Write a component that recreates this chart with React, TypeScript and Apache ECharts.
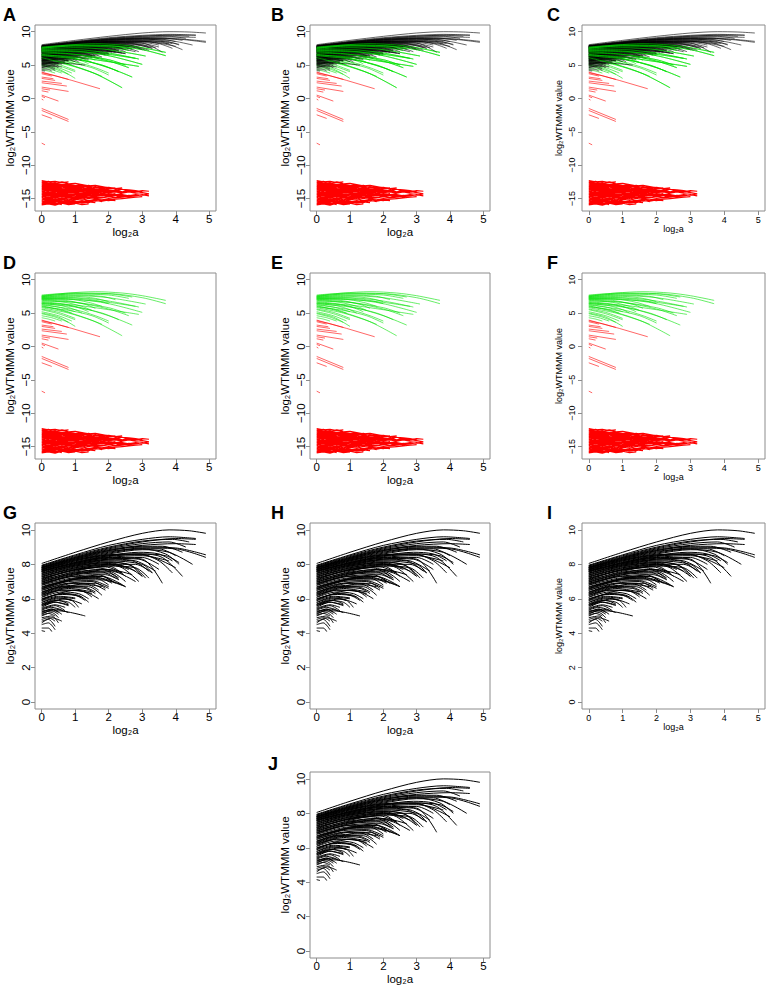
import React, { useEffect, useRef } from "react";
import * as echarts from "echarts";

// ---------- data ----------
const PANEL_LETTERS = ["A", "B", "C", "D", "E", "F", "G", "H", "I", "J"];
const X_TICKS = [0, 1, 2, 3, 4, 5];
const Y_TICKS_FULL = [-15, -10, -5, 0, 5, 10];
const Y_TICKS_BLACK = [0, 2, 4, 6, 8, 10];
const X_TITLE = "log₂a";
const Y_TITLE = "log₂WTMMM value";

// black WTMMM lines: [log2a, log2WTMMM]
const BLACK_LINES: number[][][] = [
  [[0, 8.05], [1, 8.7], [2, 9.3], [3, 9.8], [3.8, 10.0], [4.4, 9.95], [4.9, 9.8]],
  [[0, 7.95], [1, 8.55], [2, 9.1], [3, 9.45], [3.8, 9.6], [4.6, 9.5]],
  [[0, 7.92], [1, 8.5], [2, 9.0], [3, 9.35], [3.9, 9.45], [4.4, 9.3]],
  [[0, 7.9], [1, 8.45], [2, 8.95], [3, 9.3], [4, 9.5], [4.6, 9.45]],
  [[0, 7.85], [1, 8.4], [2, 8.85], [3, 9.1], [4, 9.2], [4.6, 9.15]],
  [[0, 7.85], [1, 8.4], [2, 8.9], [3, 9.2], [3.8, 9.3], [4.3, 9.0]],
  [[0, 7.82], [1, 8.35], [2, 8.8], [3, 9.05], [3.6, 9.05], [4.2, 8.7]],
  [[0, 7.8], [1, 8.35], [2, 8.8], [3, 9.0], [4, 8.95], [4.9, 8.55]],
  [[0, 7.8], [1, 8.3], [2, 8.7], [3, 8.95], [4, 8.9], [4.9, 8.4]],
  [[0, 7.78], [1, 8.3], [2, 8.75], [3, 8.9], [3.7, 8.6], [4.1, 8.0]],
  [[0, 7.75], [1, 8.25], [2, 8.6], [3, 8.85], [3.8, 8.7], [4.5, 8.0]],
  [[0, 7.72], [1, 8.25], [2, 8.65], [3, 8.9], [3.5, 8.9], [4.0, 8.5]],
  [[0, 7.7], [1, 8.2], [2, 8.55], [3, 8.6], [3.6, 8.4], [4.2, 7.3]],
  [[0, 7.7], [1, 8.15], [2, 8.5], [3, 8.55], [4.0, 7.8]],
  [[0, 7.68], [1, 8.2], [2, 8.55], [2.9, 8.6], [3.5, 8.2], [3.9, 7.5]],
  [[0, 7.65], [1, 8.1], [2, 8.4], [3, 8.3], [3.6, 6.9]],
  [[0, 7.62], [1, 8.1], [2, 8.5], [2.9, 8.7], [3.5, 8.6], [3.9, 8.2]],
  [[0, 7.6], [1, 8.05], [2, 8.4], [3, 8.5], [3.8, 8.2]],
  [[0, 7.6], [1, 8.1], [2, 8.45], [3, 8.6], [3.7, 8.5], [4.1, 8.1]],
  [[0, 7.58], [1, 8.05], [2, 8.35], [2.9, 8.3], [3.5, 7.7]],
  [[0, 7.55], [1, 8.0], [2, 8.3], [2.8, 8.2], [3.4, 7.6]],
  [[0, 7.5], [1, 7.95], [2, 8.2], [3, 8.0], [3.3, 7.5]],
  [[0, 7.48], [1, 7.95], [2, 8.25], [2.7, 8.2], [3.2, 7.6]],
  [[0, 7.45], [1, 8.0], [2, 8.3], [3, 8.4], [3.5, 8.0]],
  [[0, 7.4], [1, 7.9], [2, 8.1], [2.8, 7.6]],
  [[0, 7.38], [1, 7.9], [2, 8.15], [2.7, 7.9], [3.1, 7.2]],
  [[0, 7.35], [1, 7.85], [2, 8.1], [2.6, 8.0], [3.0, 7.3]],
  [[0, 7.3], [1, 7.8], [2, 8.05], [2.6, 7.7]],
  [[0, 7.28], [1, 7.75], [2, 7.95], [2.4, 7.8], [2.9, 7.0]],
  [[0, 7.25], [1, 7.8], [2, 8.0], [2.6, 7.8], [3.0, 7.3]],
  [[0, 7.2], [1, 7.7], [2, 7.9], [2.5, 7.3]],
  [[0, 7.18], [1, 7.65], [1.9, 7.85], [2.4, 7.5]],
  [[0, 7.15], [1, 7.7], [2, 8.0], [2.8, 8.0], [3.3, 7.5]],
  [[0, 7.1], [0.8, 7.6], [1.6, 7.8], [2.4, 7.5]],
  [[0, 7.08], [1, 7.55], [1.8, 7.7], [2.3, 7.2]],
  [[0, 7.05], [1, 7.6], [2, 7.9], [2.8, 7.8], [3.2, 7.2]],
  [[0, 7.0], [1, 7.5], [2, 7.6], [2.5, 7.0]],
  [[0, 6.98], [1, 7.45], [1.8, 7.55], [2.2, 7.2]],
  [[0, 6.95], [1, 7.5], [1.8, 7.7], [2.3, 7.5], [2.8, 7.0]],
  [[0, 6.9], [1, 7.4], [2, 7.5], [2.3, 7.1]],
  [[0, 6.88], [0.9, 7.3], [1.7, 7.4], [2.1, 7.0]],
  [[0, 6.85], [1, 7.4], [2, 7.7], [2.7, 7.4]],
  [[0, 6.8], [1, 7.3], [1.8, 7.3], [2.2, 6.9]],
  [[0, 6.78], [0.9, 7.2], [1.6, 7.25], [2.4, 6.8]],
  [[0, 6.7], [0.8, 7.1], [1.6, 7.2], [2.0, 6.8]],
  [[0, 6.68], [0.9, 7.1], [1.7, 7.2], [2.1, 6.9]],
  [[0, 6.65], [1, 7.2], [1.9, 7.4], [2.3, 7.1]],
  [[0, 6.6], [1, 7.1], [1.8, 7.1], [2.5, 6.7]],
  [[0, 6.58], [0.8, 7.0], [1.5, 7.05], [2.0, 6.7]],
  [[0, 6.55], [1, 7.15], [1.8, 7.3], [2.5, 6.7]],
  [[0, 6.5], [0.8, 6.9], [1.5, 7.0], [1.9, 6.6]],
  [[0, 6.48], [0.8, 6.9], [1.4, 6.9], [1.9, 6.5]],
  [[0, 6.4], [1, 6.9], [1.8, 6.7]],
  [[0, 6.38], [0.7, 6.75], [1.4, 6.8], [1.7, 6.5]],
  [[0, 6.35], [0.6, 6.7], [1.2, 6.7], [1.6, 6.4]],
  [[0, 6.3], [0.7, 6.7], [1.4, 6.7], [1.8, 6.2]],
  [[0, 6.28], [0.7, 6.65], [1.3, 6.6], [1.6, 6.3]],
  [[0, 6.25], [1, 6.8], [1.6, 6.9], [2.0, 6.6]],
  [[0, 6.2], [0.8, 6.6], [1.5, 6.4]],
  [[0, 6.18], [0.6, 6.5], [1.2, 6.45], [1.5, 6.1]],
  [[0, 6.1], [0.6, 6.5], [1.3, 6.4], [1.7, 6.0]],
  [[0, 6.08], [0.6, 6.4], [1.1, 6.3], [1.4, 6.0]],
  [[0, 6.0], [0.7, 6.3], [1.2, 6.1]],
  [[0, 5.98], [0.5, 6.25], [1.0, 6.2], [1.3, 5.9]],
  [[0, 5.95], [1, 6.5], [1.5, 6.3]],
  [[0, 5.9], [0.6, 6.3], [1.1, 6.2], [1.4, 5.8]],
  [[0, 5.88], [0.5, 6.15], [1.0, 6.05]],
  [[0, 5.8], [0.5, 6.1], [1.0, 6.0]],
  [[0, 5.78], [0.5, 6.05], [0.9, 5.9]],
  [[0, 5.7], [0.5, 6.0], [0.9, 5.9], [1.1, 5.5]],
  [[0, 5.68], [0.4, 5.9], [0.8, 5.8], [1.0, 5.5]],
  [[0, 5.65], [0.7, 6.0], [1.2, 5.7]],
  [[0, 5.6], [0.5, 5.9], [0.8, 5.7]],
  [[0, 5.58], [0.4, 5.8], [0.8, 5.65]],
  [[0, 5.5], [0.4, 5.8], [0.8, 5.6]],
  [[0, 5.45], [0.4, 5.65], [0.7, 5.5]],
  [[0, 5.4], [0.4, 5.6], [0.7, 5.3]],
  [[0, 5.35], [0.3, 5.5], [0.6, 5.35]],
  [[0, 5.3], [0.5, 5.3], [1.3, 5.0]],
  [[0, 5.25], [0.3, 5.4], [0.5, 5.2]],
  [[0, 5.2], [0.3, 5.4], [0.6, 5.1]],
  [[0, 5.15], [0.3, 5.3], [0.5, 5.1]],
  [[0, 5.1], [0.4, 5.4], [0.8, 5.2]],
  [[0, 5.05], [0.2, 5.15], [0.4, 5.0]],
  [[0, 5.0], [0.3, 5.2], [0.5, 4.9]],
  [[0, 4.9], [0.3, 5.0], [0.5, 4.6]],
  [[0, 4.8], [0.2, 4.9], [0.4, 4.7]],
  [[0, 4.7], [0.2, 4.8], [0.4, 4.4]],
  [[0, 4.6], [0.3, 4.9], [0.6, 4.7]],
  [[0, 4.5], [0.2, 4.6], [0.4, 4.2]],
  [[0, 4.3], [0.2, 4.3], [0.3, 4.1]],
  [[0, 4.15], [0.1, 4.1]],
];

// green WTMMM lines
const GREEN_LINES: number[][][] = [
  [[0, 7.6], [0.8, 8.0], [1.6, 8.2], [2.4, 8.0], [3.0, 7.6], [3.7, 6.9]],
  [[0, 7.7], [1, 8.0], [2, 7.9], [2.7, 7.4]],
  [[0, 7.55], [1, 7.85], [2, 7.7], [2.6, 7.2]],
  [[0, 7.5], [1, 7.9], [2, 7.9], [3, 7.3], [3.7, 6.4]],
  [[0, 7.45], [1, 7.7], [1.8, 7.5], [2.2, 7.0]],
  [[0, 7.4], [1, 7.6], [2, 7.3], [3.1, 6.35]],
  [[0, 7.35], [1, 7.5], [1.6, 7.2], [2.0, 6.7]],
  [[0, 7.3], [1, 7.3], [2, 6.8], [2.9, 5.9]],
  [[0, 7.25], [0.8, 7.3], [1.6, 6.9], [2.0, 6.4]],
  [[0, 7.2], [1, 7.1], [2, 6.4], [3.0, 5.1]],
  [[0, 7.15], [0.8, 7.1], [1.4, 6.6], [1.8, 6.0]],
  [[0, 7.1], [1, 7.0], [2, 6.6], [2.8, 6.0]],
  [[0, 7.05], [0.7, 6.9], [1.3, 6.3], [1.6, 5.7]],
  [[0, 7.0], [1, 6.6], [2, 5.6], [2.6, 4.6]],
  [[0, 6.9], [0.7, 6.6], [1.2, 6.0], [1.5, 5.4]],
  [[0, 6.8], [1, 6.6], [2, 5.8], [2.5, 5.0]],
  [[0, 6.7], [0.6, 6.4], [1.1, 5.8], [1.4, 5.2]],
  [[0, 6.6], [1, 6.0], [2, 4.6], [2.7, 3.2]],
  [[0, 6.5], [1, 6.2], [2, 5.5], [2.9, 4.8]],
  [[0, 6.45], [0.6, 6.1], [1.0, 5.5], [1.2, 5.0]],
  [[0, 6.4], [1, 5.9], [1.8, 5.0], [2.3, 4.0]],
  [[0, 6.3], [0.5, 5.9], [1.0, 5.2]],
  [[0, 6.2], [1, 5.5], [1.6, 4.6], [2.0, 3.8]],
  [[0, 6.1], [0.8, 5.1], [1.6, 3.7], [2.4, 1.6]],
  [[0, 6.0], [0.5, 5.6], [0.9, 5.0]],
  [[0, 5.9], [0.8, 5.4], [1.5, 4.6], [2.0, 3.5]],
  [[0, 5.8], [0.8, 5.0], [1.5, 3.9], [1.8, 3.3]],
  [[0, 5.6], [0.5, 5.1], [1.0, 4.2]],
  [[0, 5.5], [0.5, 4.9], [1.0, 4.0]],
  [[0, 5.2], [0.5, 4.6], [0.9, 3.8]],
  [[0, 5.0], [0.5, 4.4], [1.0, 3.0]],
  [[0, 4.9], [0.4, 4.4], [0.8, 3.6]],
  [[0, 4.6], [0.3, 4.3], [0.6, 3.8]],
  [[0, 4.3], [0.2, 4.1], [0.4, 3.8]],
];

// red short segments above the noise band
const RED_UPPER_LINES: number[][][] = [
  [[0, 3.95], [0.9, 2.7], [1.74, 1.45]],
  [[0, 3.85], [0.4, 3.4], [0.8, 2.85]],
  [[0, 3.7], [0.3, 3.35]],
  [[0, 3.2], [0.35, 2.95]],
  [[0, 3.0], [0.4, 2.7]],
  [[0, 2.6], [0.6, 2.25]],
  [[0, 2.35], [0.75, 1.85]],
  [[0, 1.7], [0.8, 1.05]],
  [[0, 1.45], [0.25, 1.25]],
  [[0, 1.15], [0.2, 0.95]],
  [[0, 0.5], [0.5, -0.4]],
  [[0, 0.3], [0.1, 0.1]],
  [[0, -0.1], [0.05, -0.25]],
  [[0, -1.5], [0.8, -3.15]],
  [[0, -1.8], [0.8, -3.45]],
  [[0, -2.45], [0.3, -3.0]],
  [[0, -6.7], [0.1, -6.95]],
];

// red noise band: log2a positions and WTMMM values per line
const RED_LOWER_X = [0, 0.2, 0.4, 0.6, 0.8, 1.0, 1.2, 1.4, 1.6, 1.8, 2.0, 2.2, 2.4, 2.6, 2.8, 3.0, 3.2];
const RED_LOWER_LINES: number[][] = [
  [-13.9, -13.7, -14.0, -13.8, -13.9, -14.1, -13.8, -14.0, -13.9, -14.2, -14.0, -13.9, -14.1, -13.9, -14.0, -13.8, -13.9],
  [-14.6, -14.8, -14.5, -14.7, -14.6, -14.4, -14.7, -14.5, -14.6, -14.4, -14.6, -14.5, -14.7, -14.5, -14.6, -14.4, -14.6],
  [-12.5, -12.8, -12.7, -13.0, -12.9, -13.1, -13.2, -13.0, -13.3, -13.2, -13.4, -13.5, -13.6, -13.7, -13.8, -14.0],
  [-15.6, -15.4, -15.7, -15.5, -15.6, -15.4, -15.5, -15.3, -15.4, -15.2, -15.3, -15.1, -15.0, -14.9, -14.8, -14.7],
  [-13.2, -13.5, -13.3, -13.6, -13.4, -13.7, -13.5, -13.8, -13.6, -13.9, -13.7, -13.8, -13.6, -13.9],
  [-15.1, -15.3, -15.0, -15.2, -14.9, -15.1, -14.8, -15.0, -14.8, -14.9, -14.7, -14.9, -14.8, -14.6],
  [-12.7, -12.9, -13.1, -12.9, -13.2, -13.0, -13.3, -13.1, -13.4, -13.3, -13.5, -13.4],
  [-15.8, -15.6, -15.8, -15.5, -15.7, -15.6, -15.4, -15.6, -15.3, -15.4, -15.2, -15.3],
  [-14.0, -14.3, -14.1, -14.4, -14.2, -14.0, -14.3, -14.1, -14.4, -14.2, -14.3],
  [-13.6, -13.4, -13.7, -13.5, -13.8, -13.6, -13.9, -13.7, -13.6, -13.8, -13.7],
  [-14.9, -15.1, -14.8, -15.0, -14.7, -14.9, -15.1, -14.8, -15.0, -14.9],
  [-12.4, -12.7, -12.6, -12.9, -12.8, -13.0, -12.9, -13.1, -13.0, -13.2],
  [-15.4, -15.2, -15.5, -15.3, -15.6, -15.4, -15.7, -15.5, -15.6],
  [-13.0, -13.3, -13.1, -13.4, -13.2, -13.5, -13.3, -13.6, -13.4],
  [-14.4, -14.6, -14.3, -14.5, -14.7, -14.4, -14.6, -14.5],
  [-15.9, -15.7, -15.9, -15.6, -15.8, -15.7, -15.9, -15.8],
  [-12.6, -12.4, -12.7, -12.5, -12.8, -12.7, -12.9],
  [-14.8, -14.5, -14.7, -14.4, -14.6, -14.8, -14.5],
  [-13.8, -14.1, -13.9, -14.2, -14.0, -14.1],
  [-15.3, -15.5, -15.2, -15.4, -15.6, -15.3],
  [-12.9, -13.2, -12.9, -13.1, -13.3],
  [-14.2, -13.9, -14.2, -14.0, -14.3],
  [-15.5, -15.8, -15.6, -15.9],
  [-13.4, -13.2, -13.5, -13.3],
  [-14.2, -14.4, -14.1, -14.3, -14.5, -14.2, -14.4, -14.1, -14.3, -14.5, -14.2, -14.4, -14.3],
  [-13.5, -13.8, -13.6, -13.9, -13.7, -14.0, -13.8, -13.6, -13.9, -13.7, -14.0, -13.8, -14.1, -13.9, -14.1],
  [-15.0, -14.8, -15.1, -14.9, -15.2, -15.0, -14.8, -15.0, -14.7, -14.9, -14.6, -14.8, -14.5, -14.7, -14.6],
  [-14.6, -14.9, -14.7, -15.0, -14.8, -14.9],
  [-13.3, -13.6, -13.4, -13.7, -13.5, -13.8, -13.6, -13.5],
  [-14.7, -14.5, -14.8, -14.6, -14.9, -14.7, -14.5, -14.8, -14.6, -14.9, -14.7, -14.5, -14.7],
  [-12.8, -13.0, -12.8, -13.1, -13.0, -13.2, -13.1, -13.3, -13.2, -13.4, -13.3, -13.5, -13.4],
  [-13.1, -12.9, -13.2, -13.0, -13.3, -13.1, -13.4],
  [-13.7, -13.5, -13.8, -13.6, -13.9, -13.7, -13.6, -13.9, -13.8, -14.0],
  [-14.1, -13.9, -14.2, -13.9, -14.1, -13.8, -14.0, -14.2, -14.0, -13.9, -14.1, -14.0, -14.2, -14.0, -14.2, -14.1, -14.3],
  [-14.5, -14.3, -14.6, -14.4, -14.7, -14.5, -14.3, -14.6, -14.4, -14.6, -14.3, -14.5, -14.4, -14.6, -14.4, -14.5, -14.3],
  [-15.2, -15.0, -15.3, -15.1, -15.4, -15.2, -15.0, -15.3, -15.1, -15.2, -15.0, -15.1],
  [-15.7, -15.5, -15.8, -15.6, -15.4, -15.7, -15.5, -15.6],
  [-15.0, -15.3, -15.1, -15.4, -15.2, -15.5, -15.3],
  [-14.3, -14.0, -14.3, -14.1, -14.4, -14.2, -14.5, -14.3, -14.1, -14.4, -14.2],
  [-13.4, -13.7, -13.5, -13.8, -13.6, -13.4, -13.7, -13.5, -13.8, -13.6, -13.9, -13.7, -14.0, -13.8],
  [-12.3, -12.5, -12.4, -12.6, -12.5],
  [-15.95, -15.8, -16.0, -15.7, -15.9, -15.8],
  [-14.85, -15.05, -14.8, -15.0, -14.75, -14.95, -14.7, -14.9, -14.65, -14.85, -14.6, -14.8, -14.6, -14.75],
  [-13.95, -14.15, -13.9, -14.1, -13.85, -14.05, -14.2, -14.0, -14.15, -13.95, -14.1, -13.9, -14.05, -13.85, -14.0, -13.8],
  [-14.45, -14.25, -14.5, -14.3, -14.55, -14.35, -14.6, -14.4, -14.5, -14.3, -14.45, -14.25],
  [-12.6, -12.9, -12.75, -13.05, -12.85, -13.15, -12.95, -13.25],
  [-15.45, -15.65, -15.4, -15.6, -15.35, -15.55, -15.3, -15.5, -15.25, -15.45],
  [-13.25, -13.05, -13.35, -13.15, -13.45, -13.25, -13.55, -13.35, -13.6, -13.5, -13.7],
];

// ---------- layout ----------
const COL_LEFT = [35, 310, 582];
const COL_W = [181, 180, 183];
const ROW_TOP = [25, 273, 523, 772];
const PANEL_H = 186;
const LETTER_X = [3, 271, 547];
const LETTER_BASE = [20, 267.5, 518, 769];

type Kind = "full" | "gr" | "black";
const PANELS: { row: number; col: number; kind: Kind; letterX?: number }[] = [
  { row: 0, col: 0, kind: "full" },
  { row: 0, col: 1, kind: "full" },
  { row: 0, col: 2, kind: "full" },
  { row: 1, col: 0, kind: "gr" },
  { row: 1, col: 1, kind: "gr" },
  { row: 1, col: 2, kind: "gr" },
  { row: 2, col: 0, kind: "black" },
  { row: 2, col: 1, kind: "black" },
  { row: 2, col: 2, kind: "black" },
  { row: 3, col: 1, kind: "black", letterX: 268 },
];

const FONT = '"Liberation Sans", Arial, Helvetica, sans-serif';
const BOX = "#8c8c8c";
const C_BLACK = "#000000";
const C_GREEN = "#00e000";
const C_RED = "#ff0000";

function joinPairs(lines: number[][][]) {
  const out: (number | string)[][] = [];
  lines.forEach((ln, i) => {
    if (i) out.push(["-", "-"]);
    ln.forEach((p) => out.push([p[0], p[1]]));
  });
  return out;
}

function joinGrid(xs: number[], lines: number[][]) {
  const out: (number | string)[][] = [];
  lines.forEach((ln, i) => {
    if (i) out.push(["-", "-"]);
    ln.forEach((y, j) => out.push([xs[j], y]));
  });
  return out;
}

const minus = (v: number) => String(v).replace("-", "−");

function buildOption() {
  const grid: any[] = [];
  const xAxis: any[] = [];
  const yAxis: any[] = [];
  const series: any[] = [];
  const graphic: any[] = [];

  const blackData = joinPairs(BLACK_LINES);
  const greenData = joinPairs(GREEN_LINES);
  const greenLongData = joinPairs(GREEN_LINES.filter((l) => l[l.length - 1][0] >= 2.3));
  const redUpData = joinPairs(RED_UPPER_LINES);
  const redLowData = joinGrid(RED_LOWER_X, RED_LOWER_LINES);

  PANELS.forEach((p, i) => {
    const small = p.col === 2;
    const tickFs = small ? 9 : 11.5;
    const nameFs = small ? 9 : 11.5;
    const full = p.kind !== "black";
    grid.push({
      left: COL_LEFT[p.col],
      top: ROW_TOP[p.row],
      width: COL_W[p.col],
      height: PANEL_H,
      show: true,
      borderColor: BOX,
      borderWidth: 1,
      backgroundColor: "transparent",
      containLabel: false,
    });
    xAxis.push({
      gridIndex: i,
      type: "value",
      min: -0.2,
      max: 5.2,
      axisLine: { show: false, onZero: false },
      splitLine: { show: false },
      axisTick: { show: true, length: 4, lineStyle: { color: BOX }, customValues: X_TICKS },
      axisLabel: {
        customValues: X_TICKS,
        fontSize: tickFs,
        color: "#000",
        fontFamily: FONT,
        margin: small ? 4 : 2,
      },
      name: X_TITLE,
      nameLocation: "middle",
      nameGap: small ? 12 : 10,
      nameTextStyle: { fontSize: nameFs, color: "#000", fontFamily: FONT },
    });
    const yt = full ? Y_TICKS_FULL : Y_TICKS_BLACK;
    yAxis.push({
      gridIndex: i,
      type: "value",
      min: full ? -16.86 : -0.4,
      max: full ? 11.0 : 10.4,
      axisLine: { show: false, onZero: false },
      splitLine: { show: false },
      axisTick: { show: true, length: 4, lineStyle: { color: BOX }, customValues: yt },
      axisLabel: {
        customValues: yt,
        rotate: 90,
        fontSize: tickFs,
        color: "#000",
        fontFamily: FONT,
        margin: small ? 6 : 3,
        formatter: (v: number) => minus(v),
      },
      name: Y_TITLE,
      nameLocation: "middle",
      nameGap: 19,
      nameTextStyle: { fontSize: nameFs, color: "#000", fontFamily: FONT },
    });

    const mk = (data: any[], color: string, width: number, smooth: boolean | number) => ({
      type: "line",
      xAxisIndex: i,
      yAxisIndex: i,
      data,
      symbol: "none",
      showSymbol: false,
      smooth,
      connectNulls: false,
      silent: true,
      animation: false,
      emphasis: { disabled: true },
      lineStyle: { color, width },
    });
    if (p.kind === "full") {
      series.push(mk(greenData, C_GREEN, 0.6, 0.3));
      series.push(mk(blackData, C_BLACK, 0.6, 0.3));
      series.push(mk(greenLongData, C_GREEN, 0.6, 0.3));
    } else if (p.kind === "gr") {
      series.push(mk(greenData, C_GREEN, 0.6, 0.3));
    } else {
      series.push(mk(blackData, C_BLACK, 1.0, 0.3));
    }
    if (p.kind !== "black") {
      series.push(mk(redUpData, C_RED, 0.6, false));
      series.push(mk(redLowData, C_RED, 1.2, false));
    }

    graphic.push({
      type: "text",
      x: p.letterX ?? LETTER_X[p.col],
      y: LETTER_BASE[p.row] + 4,
      style: {
        text: PANEL_LETTERS[i],
        fill: "#000",
        font: `bold 18px ${FONT}`,
        textVerticalAlign: "bottom",
      },
    });
  });

  return {
    animation: false,
    backgroundColor: "#fff",
    textStyle: { fontFamily: FONT },
    grid,
    xAxis,
    yAxis,
    series,
    graphic,
  };
}

export default function App() {
  const ref = useRef<HTMLDivElement>(null);
  useEffect(() => {
    if (!ref.current) return;
    const chart = echarts.init(ref.current, null, { renderer: "svg" });
    chart.setOption(buildOption() as any);
    return () => chart.dispose();
  }, []);
  return (
    <div
      ref={ref}
      style={{ position: "absolute", left: 0, top: 0, width: 768, height: 987 }}
    />
  );
}
